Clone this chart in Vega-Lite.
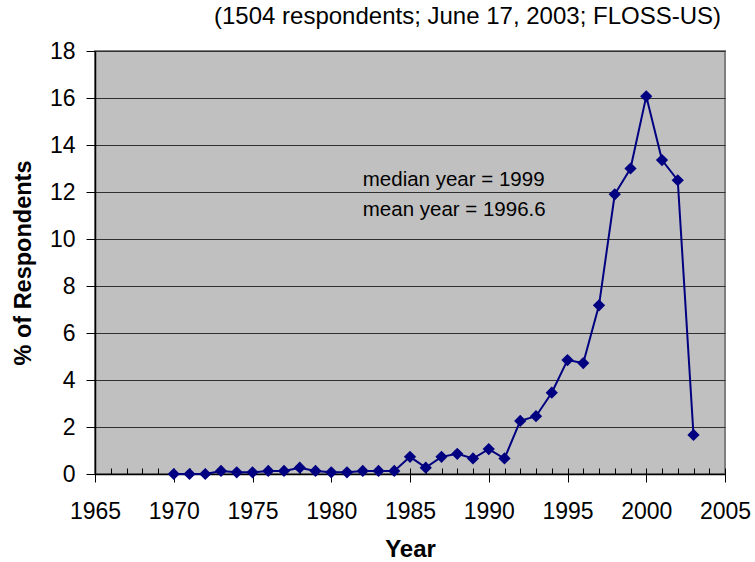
{
  "$schema": "https://vega.github.io/schema/vega-lite/v6.json",
  "width": 630,
  "height": 423,
  "autosize": {"type": "none"},
  "padding": {"left": 95, "top": 51, "right": 30, "bottom": 88},
  "background": "white",
  "title": {
    "text": "(1504 respondents; June 17, 2003; FLOSS-US)",
    "anchor": "end",
    "frame": "group",
    "offset": 11,
    "dx": -4,
    "font": "Liberation Sans",
    "fontSize": 24,
    "fontWeight": "normal",
    "color": "black"
  },
  "config": {
    "view": {"fill": "#C0C0C0", "stroke": "#808080", "strokeWidth": 2},
    "axis": {"labelFont": "Liberation Sans", "titleFont": "Liberation Sans", "labelColor": "black", "titleColor": "black", "labelFlush": false}
  },
  "encoding": {
    "x": {"field": "year", "type": "quantitative", "scale": {"domain": [1965, 2005], "nice": false, "zero": false}},
    "y": {
      "field": "pct", "type": "quantitative",
      "scale": {"domain": [0, 18], "nice": false},
      "axis": {
        "values": [0, 2, 4, 6, 8, 10, 12, 14, 16, 18],
        "title": "% of Respondents",
        "titleFontSize": 23.5, "titleFontWeight": "bold",
        "titleAngle": -90, "titleX": -72, "titleY": 211.5, "titleBaseline": "middle", "titleAlign": "center",
        "labelFontSize": 23, "labelPadding": 11, "labelFlush": false,
        "tickSize": 9, "tickColor": "black", "domainColor": "black", "domainWidth": 1.5,
        "grid": true, "gridColor": "#303030", "gridWidth": 1.2
      }
    }
  },
  "layer": [
    {
      "data": {"values": [
        {"year": 1970, "pct": 0}, {"year": 1971, "pct": 0}, {"year": 1972, "pct": 0},
        {"year": 1973, "pct": 0.13}, {"year": 1974, "pct": 0.07}, {"year": 1975, "pct": 0.07},
        {"year": 1976, "pct": 0.13}, {"year": 1977, "pct": 0.13}, {"year": 1978, "pct": 0.27},
        {"year": 1979, "pct": 0.13}, {"year": 1980, "pct": 0.07}, {"year": 1981, "pct": 0.07},
        {"year": 1982, "pct": 0.13}, {"year": 1983, "pct": 0.13}, {"year": 1984, "pct": 0.13},
        {"year": 1985, "pct": 0.73}, {"year": 1986, "pct": 0.27}, {"year": 1987, "pct": 0.73},
        {"year": 1988, "pct": 0.86}, {"year": 1989, "pct": 0.66}, {"year": 1990, "pct": 1.06},
        {"year": 1991, "pct": 0.66}, {"year": 1992, "pct": 2.26}, {"year": 1993, "pct": 2.46},
        {"year": 1994, "pct": 3.46}, {"year": 1995, "pct": 4.85}, {"year": 1996, "pct": 4.72},
        {"year": 1997, "pct": 7.18}, {"year": 1998, "pct": 11.9}, {"year": 1999, "pct": 13.0},
        {"year": 2000, "pct": 16.07}, {"year": 2001, "pct": 13.36}, {"year": 2002, "pct": 12.5},
        {"year": 2003, "pct": 1.66}
      ]},
      "mark": {"type": "line", "color": "#000080", "strokeWidth": 2, "point": {"shape": "diamond", "size": 150, "filled": true, "color": "#000080", "opacity": 1}},
      "encoding": {
        "x": {
          "field": "year", "type": "quantitative",
          "axis": {
            "values": [1965, 1970, 1975, 1980, 1985, 1990, 1995, 2000, 2005],
            "format": "d",
            "title": "Year",
            "titleFontSize": 24, "titleFontWeight": "bold",
            "titleY": 75, "titleBaseline": "middle",
            "labelFontSize": 23, "labelPadding": 18, "labelFlush": false, "labelOverlap": false,
            "tickSize": 8, "tickColor": "black", "domainColor": "black", "domainWidth": 1.5,
            "grid": false, "orient": "bottom"
          }
        }
      }
    },
    {
      "data": {"values": [
        {"year": 1982, "pct": 12.5, "t": "median year = 1999"},
        {"year": 1982, "pct": 11.23, "t": "mean year = 1996.6"}
      ]},
      "mark": {"type": "text", "align": "left", "baseline": "middle", "font": "Liberation Sans", "fontSize": 20.5, "color": "black"},
      "encoding": {
        "text": {"field": "t"},
        "x": {
          "field": "year", "type": "quantitative",
          "axis": {
            "orient": "bottom",
            "values": [1965,1966,1967,1968,1969,1970,1971,1972,1973,1974,1975,1976,1977,1978,1979,1980,1981,1982,1983,1984,1985,1986,1987,1988,1989,1990,1991,1992,1993,1994,1995,1996,1997,1998,1999,2000,2001,2002,2003,2004,2005],
            "labels": false, "domain": false, "grid": false, "title": null,
            "tickSize": -6, "tickColor": "black", "tickWidth": 1
          }
        }
      }
    }
  ],
  "resolve": {"axis": {"x": "independent"}}
}
